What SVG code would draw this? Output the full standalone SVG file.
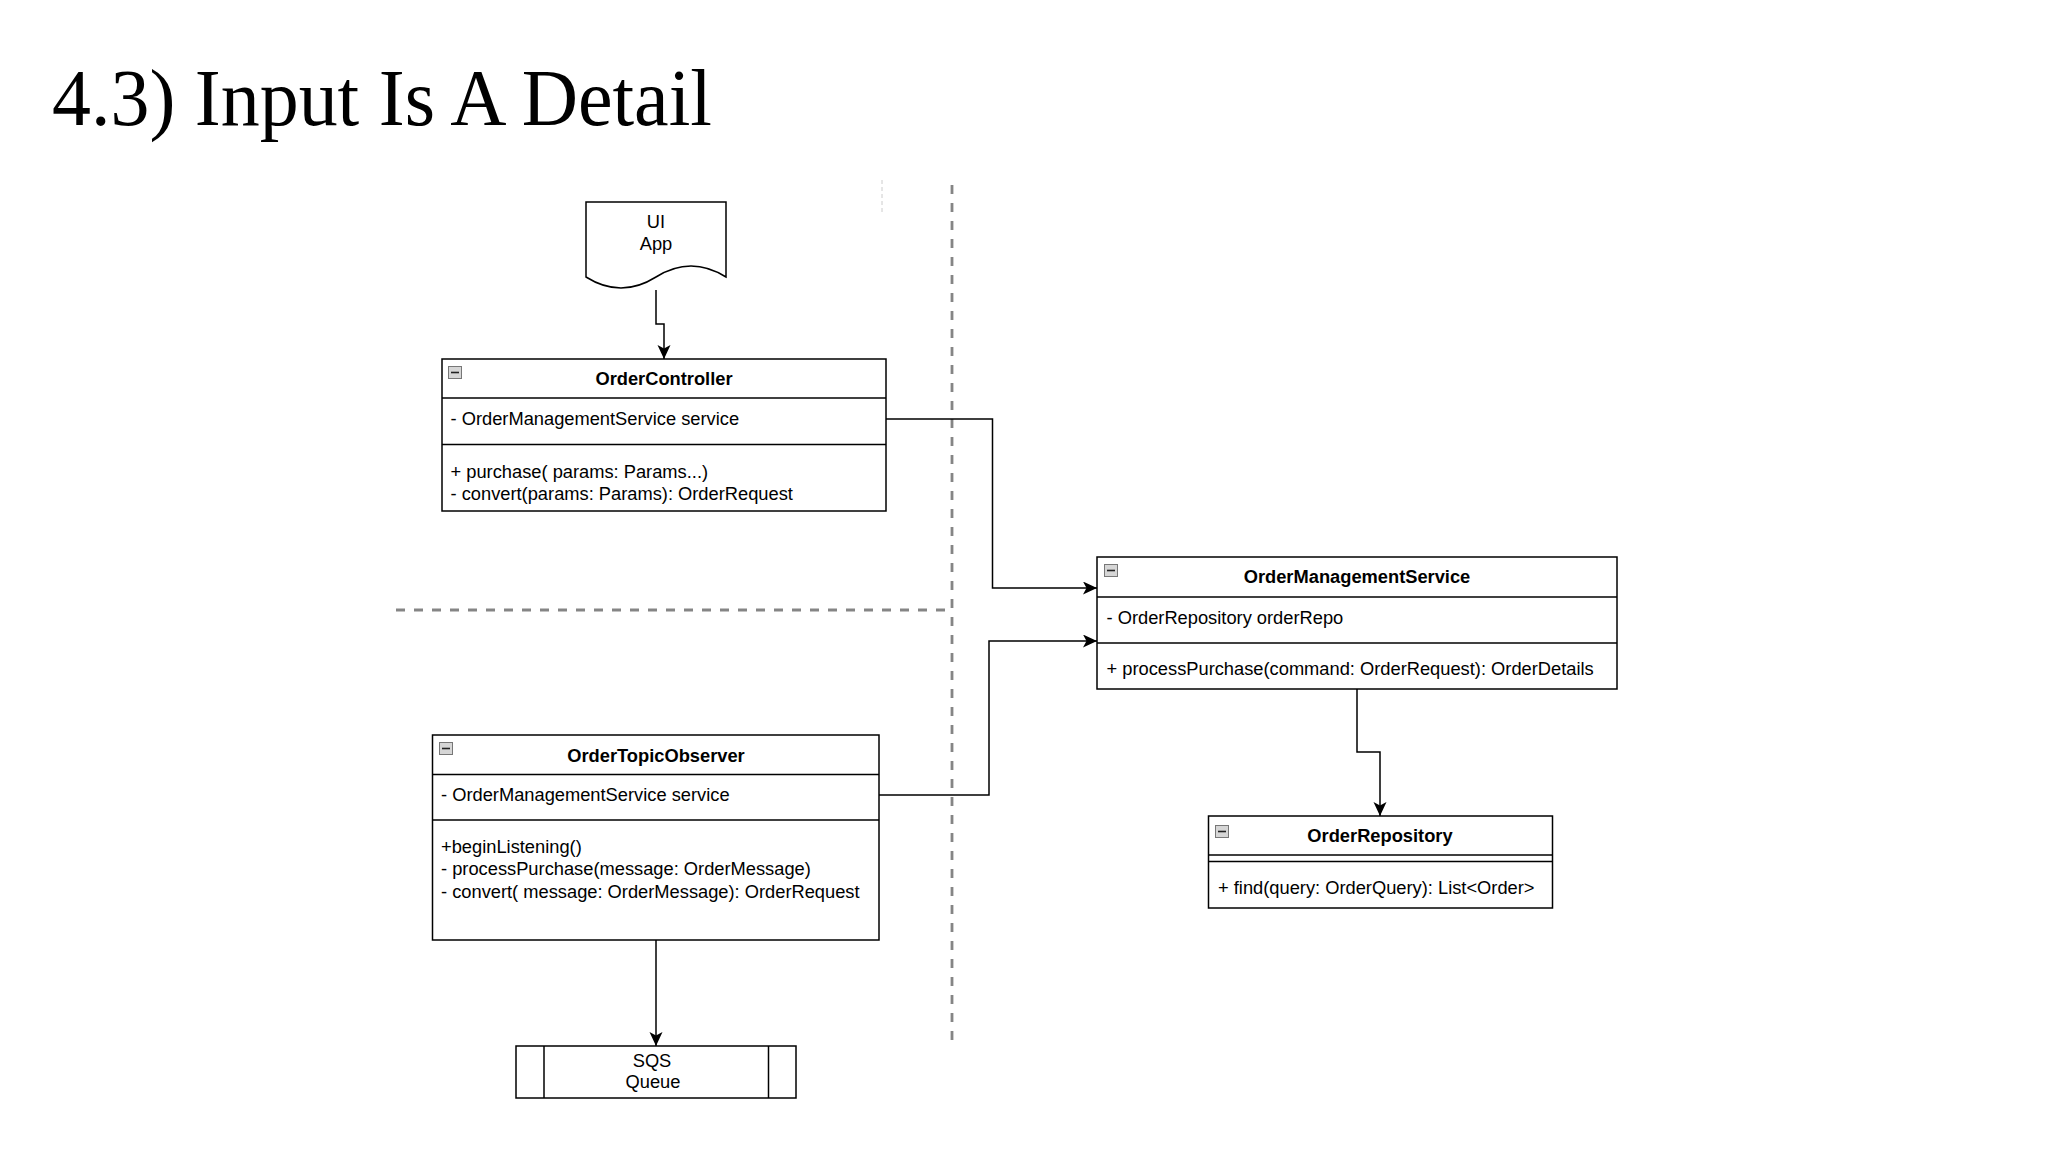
<svg xmlns="http://www.w3.org/2000/svg" width="2048" height="1152" viewBox="0 0 2048 1152">
  <style>
    .t { font-family: "Liberation Sans", Arial, sans-serif; font-size: 18.3px; fill: #000; }
    .b { font-weight: bold; text-anchor: middle; }
    .c { text-anchor: middle; }
    .box { fill: #fff; stroke: #000; stroke-width: 1.5; }
    .sep { stroke: #000; stroke-width: 1.5; }
    .edge { fill: none; stroke: #000; stroke-width: 1.5; }
    .divider { fill: none; stroke: #858585; stroke-width: 2.8; stroke-dasharray: 9 9; }
  </style>
  <defs>
    <marker id="arrow" markerUnits="userSpaceOnUse" markerWidth="15" markerHeight="14" refX="14" refY="6.5" orient="auto">
      <path d="M0,0 L14,6.5 L0,13 L3.5,6.5 Z" fill="#000"/>
    </marker>
    <!-- swimlane-style collapse toggle -->
    <g id="collapse">
      <rect x="0.5" y="0.5" width="13" height="12" fill="#d6d6d6" stroke="#777" stroke-width="1"/>
      <line x1="3" y1="6.5" x2="11" y2="6.5" stroke="#222" stroke-width="1.6"/>
    </g>
  </defs>

  <rect width="2048" height="1152" fill="#fff"/>

  <text x="52" y="125" font-family="'Liberation Serif', 'Times New Roman', serif" font-size="80" textLength="660" lengthAdjust="spacingAndGlyphs" fill="#000">4.3) Input Is A Detail</text>

  <!-- boundary lines -->
  <g id="boundaries">
    <line class="divider" x1="952" y1="185" x2="952" y2="1040"/>
    <line class="divider" x1="396" y1="610" x2="952" y2="610"/>
    <line x1="882" y1="180" x2="882" y2="214" stroke="#ccc" stroke-width="1" stroke-dasharray="4 3"/>
  </g>

  <!-- connectors -->
  <g id="connectors">
    <path class="edge" d="M656,290 V324 H664 V359" marker-end="url(#arrow)"/>
    <path class="edge" d="M886,419 H992.5 V588 H1097" marker-end="url(#arrow)"/>
    <path class="edge" d="M879,795 H989 V641 H1097" marker-end="url(#arrow)"/>
    <path class="edge" d="M1357,689 V752 H1380 V816" marker-end="url(#arrow)"/>
    <path class="edge" d="M656,940 V1046" marker-end="url(#arrow)"/>
  </g>

  <g id="ui-app">
    <path class="box" d="M586,202 L726,202 L726,277 Q691,255 656,277 Q621,299 586,277 Z"/>
    <text class="t c" x="656" y="228">UI</text>
    <text class="t c" x="656" y="250">App</text>
  </g>

  <g id="order-controller">
    <rect class="box" x="442" y="359" width="444" height="152"/>
    <line class="sep" x1="442" y1="398" x2="886" y2="398"/>
    <line class="sep" x1="442" y1="444.5" x2="886" y2="444.5"/>
    <use href="#collapse" x="448" y="366"/>
    <text class="t b" x="664" y="385">OrderController</text>
    <text class="t" x="450.5" y="425">- OrderManagementService service</text>
    <text class="t" x="450.5" y="477.5">+ purchase( params: Params...)</text>
    <text class="t" x="450.5" y="499.5">- convert(params: Params): OrderRequest</text>
  </g>

  <g id="order-management-service">
    <rect class="box" x="1097" y="557" width="520" height="132"/>
    <line class="sep" x1="1097" y1="597" x2="1617" y2="597"/>
    <line class="sep" x1="1097" y1="643" x2="1617" y2="643"/>
    <use href="#collapse" x="1104" y="564"/>
    <text class="t b" x="1357" y="583">OrderManagementService</text>
    <text class="t" x="1106.5" y="624">- OrderRepository orderRepo</text>
    <text class="t" x="1106.5" y="675">+ processPurchase(command: OrderRequest): OrderDetails</text>
  </g>

  <g id="order-topic-observer">
    <rect class="box" x="432.5" y="735" width="446.5" height="205"/>
    <line class="sep" x1="432.5" y1="774.5" x2="879" y2="774.5"/>
    <line class="sep" x1="432.5" y1="820" x2="879" y2="820"/>
    <use href="#collapse" x="439" y="742"/>
    <text class="t b" x="656" y="761.5">OrderTopicObserver</text>
    <text class="t" x="441" y="801">- OrderManagementService service</text>
    <text class="t" x="441" y="853">+beginListening()</text>
    <text class="t" x="441" y="875">- processPurchase(message: OrderMessage)</text>
    <text class="t" x="441" y="897.5">- convert( message: OrderMessage): OrderRequest</text>
  </g>

  <g id="order-repository">
    <rect class="box" x="1208.5" y="816" width="344" height="92"/>
    <line class="sep" x1="1208.5" y1="855" x2="1552.5" y2="855"/>
    <line class="sep" x1="1208.5" y1="861.5" x2="1552.5" y2="861.5"/>
    <use href="#collapse" x="1215" y="825"/>
    <text class="t b" x="1380" y="841.5">OrderRepository</text>
    <text class="t" x="1218" y="894">+ find(query: OrderQuery): List&lt;Order&gt;</text>
  </g>

  <g id="sqs-queue">
    <rect class="box" x="516" y="1046" width="280" height="52"/>
    <line class="sep" x1="544" y1="1046" x2="544" y2="1098"/>
    <line class="sep" x1="768.5" y1="1046" x2="768.5" y2="1098"/>
    <text class="t c" x="652" y="1067">SQS</text>
    <text class="t c" x="653" y="1088">Queue</text>
  </g>
</svg>
